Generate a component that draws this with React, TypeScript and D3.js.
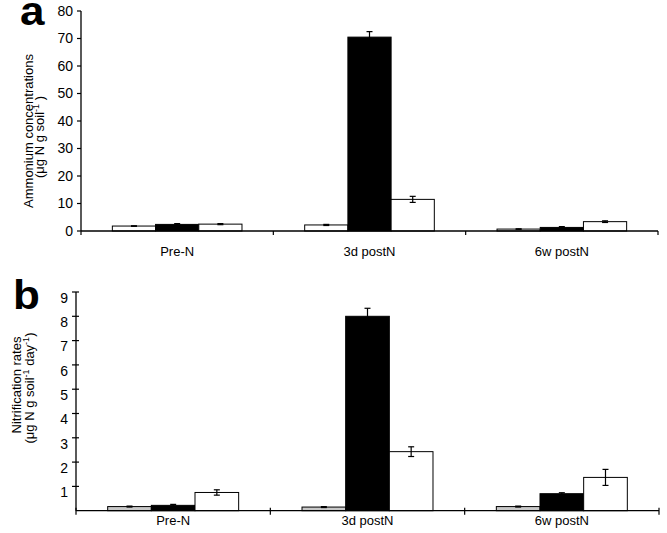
import React from "react";
import * as d3 from "d3";

const categories = ["Pre-N", "3d postN", "6w postN"];

const ammoniumTicks = [0, 10, 20, 30, 40, 50, 60, 70, 80];
const ammonium1 = [1.8, 2.2, 0.7];
const ammonium2 = [2.4, 70.5, 1.3];
const ammonium3 = [2.5, 11.5, 3.4];
const ammoniumErr1 = [0.1, 0.2, 0.1];
const ammoniumErr2 = [0.3, 2.0, 0.3];
const ammoniumErr3 = [0.2, 1.1, 0.3];

const nitrifTicks = [1, 2, 3, 4, 5, 6, 7, 8, 9];
const nitrif1 = [0.17, 0.15, 0.17];
const nitrif2 = [0.22, 8.0, 0.7];
const nitrif3 = [0.75, 2.43, 1.37];
const nitrifErr1 = [0.02, 0.02, 0.02];
const nitrifErr2 = [0.04, 0.33, 0.04];
const nitrifErr3 = [0.11, 0.2, 0.33];

const FONT = "'Liberation Sans', Arial, Helvetica, sans-serif";

type PanelProps = {
  x0: number;
  x1: number;
  yBase: number;
  yTop: number;
  max: number;
  ticks: number[];
  series: number[][];
  errors: number[][];
  fills: string[];
  yTickOuter: boolean;
  xTickCross: boolean;
  labelDy: number;
  catBaseline: number;
};

function Panel(p: PanelProps) {
  const x = d3.scaleBand<string>().domain(categories).range([p.x0, p.x1]).padding(0);
  const bw = x.bandwidth();
  const inner = d3
    .scaleBand<number>()
    .domain(p.series.map((_, i) => i))
    .range([bw * 0.163, bw * 0.837])
    .padding(0);
  const y = d3.scaleLinear().domain([0, p.max]).range([p.yBase, p.yTop]);
  const capW = 3;
  const boundaries = [p.x0, ...categories.map((c) => (x(c) as number) + bw)];
  return (
    <g>
      {categories.map((c, ci) =>
        p.series.map((s, si) => {
          const bx = (x(c) as number) + (inner(si) as number);
          const w = inner.bandwidth();
          const v = s[ci];
          return (
            <rect
              key={`b${ci}-${si}`}
              x={bx}
              y={y(v)}
              width={w}
              height={p.yBase - y(v)}
              fill={p.fills[si]}
              stroke="#000"
              strokeWidth={1}
            />
          );
        })
      )}
      {categories.map((c, ci) =>
        p.series.map((s, si) => {
          const cx = (x(c) as number) + (inner(si) as number) + inner.bandwidth() / 2;
          const v = s[ci];
          const e = p.errors[si][ci];
          const ya = y(v + e);
          const yb = y(Math.max(0, v - e));
          const col = si === 1 ? "#000" : "#000";
          return (
            <g key={`e${ci}-${si}`} stroke={col} strokeWidth={1.2}>
              <line x1={cx} x2={cx} y1={ya} y2={yb} />
              <line x1={cx - capW} x2={cx + capW} y1={ya} y2={ya} />
              <line x1={cx - capW} x2={cx + capW} y1={yb} y2={yb} />
            </g>
          );
        })
      )}
      {/* axes */}
      <line x1={p.x0} x2={p.x1} y1={p.yBase} y2={p.yBase} stroke="#000" strokeWidth={1.3} />
      <line x1={p.x0} x2={p.x0} y1={p.yBase} y2={y(p.max)} stroke="#000" strokeWidth={1.3} />
      {boundaries.map((bx, i) => (
        <line
          key={`xt${i}`}
          x1={bx}
          x2={bx}
          y1={p.xTickCross ? p.yBase - 3 : p.yBase}
          y2={p.yBase + 4}
          stroke="#000"
          strokeWidth={1.2}
        />
      ))}
      {p.ticks.map((t) => (
        <g key={`yt${t}`}>
          <line
            x1={p.x0 - 4}
            x2={p.yTickOuter ? p.x0 : p.x0 + 3}
            y1={y(t)}
            y2={y(t)}
            stroke="#000"
            strokeWidth={1.2}
          />
          <text
            x={p.x0 - 8}
            y={y(t) + p.labelDy}
            textAnchor="end"
            dominantBaseline="middle"
            fontFamily={FONT}
            fontSize={14}
            fill="#000"
          >
            {t}
          </text>
        </g>
      ))}
      {categories.map((c) => (
        <text
          key={`cl${c}`}
          x={(x(c) as number) + bw / 2}
          y={p.catBaseline}
          textAnchor="middle"
          fontFamily={FONT}
          fontSize={13}
          fill="#000"
        >
          {c}
        </text>
      ))}
    </g>
  );
}

export default function App() {
  return (
    <svg
      width={667}
      height={533}
      viewBox="0 0 667 533"
      style={{ position: "absolute", left: 0, top: 0, background: "#fff" }}
    >
      <rect x={0} y={0} width={667} height={533} fill="#fff" />
      <Panel
        x0={81}
        x1={658}
        yBase={231}
        yTop={11}
        max={80}
        ticks={ammoniumTicks}
        series={[ammonium1, ammonium2, ammonium3]}
        errors={[ammoniumErr1, ammoniumErr2, ammoniumErr3]}
        fills={["#fff", "#000", "#fff"]}
        yTickOuter={true}
        xTickCross={false}
        labelDy={1}
        catBaseline={256}
      />
      <Panel
        x0={76}
        x1={659}
        yBase={510.7}
        yTop={292}
        max={9}
        ticks={nitrifTicks}
        series={[nitrif1, nitrif2, nitrif3]}
        errors={[nitrifErr1, nitrifErr2, nitrifErr3]}
        fills={["#c8c8c8", "#000", "#fff"]}
        yTickOuter={false}
        xTickCross={true}
        labelDy={7}
        catBaseline={525}
      />
      <text
        transform="translate(20,25) scale(1.1,1)"
        fontFamily={FONT}
        fontWeight="bold"
        fontSize={40}
        fill="#000"
      >
        a
      </text>
      <text
        transform="translate(13,309) scale(1.1,1)"
        fontFamily={FONT}
        fontWeight="bold"
        fontSize={40}
        fill="#000"
      >
        b
      </text>
      <g fontFamily={FONT} fontSize={13} fill="#000" textAnchor="middle">
        <text transform="translate(33,131) rotate(-90)">Ammonium concentrations</text>
        <text transform="translate(44,137) rotate(-90)">
          (μg N g soil
          <tspan fontSize={9} dy={-5}>-1</tspan>
          <tspan dy={5}> )</tspan>
        </text>
        <text transform="translate(21,385) rotate(-90)">Nitrification rates</text>
        <text transform="translate(34,388) rotate(-90)">
          (μg N g soil
          <tspan fontSize={9} dy={-5}>-1</tspan>
          <tspan dy={5}> day</tspan>
          <tspan fontSize={9} dy={-5}>-1</tspan>
          <tspan dy={5}>)</tspan>
        </text>
      </g>
    </svg>
  );
}
